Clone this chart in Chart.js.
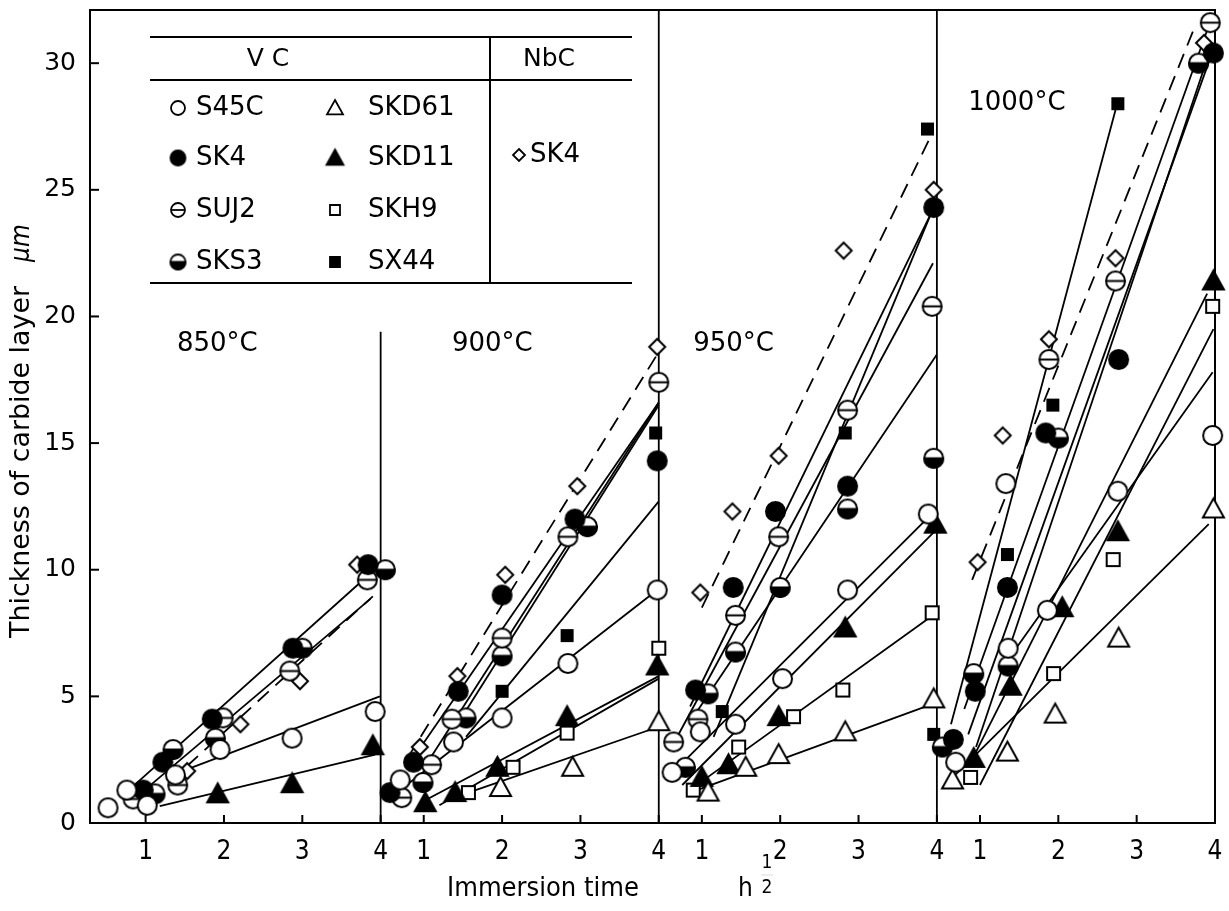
<!DOCTYPE html>
<html>
<head>
<title>Thickness of carbide layer vs immersion time</title>
<script src="https://cdn.jsdelivr.net/npm/chart.js"></script>
<style>
  html, body { margin: 0; padding: 0; background: #fff; }
  canvas { display: block; }
</style>
</head>
<body>
<canvas id="chart" width="1229" height="911"></canvas>
<script>

/* DATA - four panels (850, 900, 950, 1000 C), x = h^1/2, y = thickness in um */
const panelNames = ["850°C", "900°C", "950°C", "1000°C"];
const xTicks = [1, 2, 3, 4];
const yTicks = [0, 5, 10, 15, 20, 25, 30];

// measured points, one list per panel: [h^1/2, thickness]
const S45C = [
    [[0.52,0.6],[0.76,1.3],[1.02,0.7],[1.38,1.9],[1.95,2.9],[2.87,3.35],[3.93,4.4]],
    [[0.7,1.7],[1.38,3.2],[2.0,4.15],[2.84,6.3],[3.98,9.2]],
    [[0.62,2.0],[0.98,3.6],[1.43,3.9],[2.03,5.7],[2.86,9.2],[3.89,12.2]],
    [[0.69,2.4],[1.33,13.4],[1.36,6.9],[1.86,8.4],[2.76,13.1],[3.97,15.3]]
];
const SK4 = [
    [[0.97,1.3],[1.22,2.4],[1.85,4.1],[2.88,6.9],[3.84,10.2]],
    [[0.57,1.2],[0.87,2.4],[1.44,5.2],[2.0,9.0],[2.93,12.0],[3.98,14.3]],
    [[0.92,5.25],[1.4,9.3],[1.94,12.3],[2.86,13.3],[3.96,24.3]],
    [[0.66,3.3],[0.94,5.2],[1.35,9.3],[1.84,15.4],[2.77,18.3],[3.98,30.4]]
];
const SUJ2 = [
    [[0.84,0.95],[1.41,1.5],[1.99,4.15],[2.84,6.0],[3.83,9.6]],
    [[0.72,1.0],[1.1,2.3],[1.36,4.1],[2.0,7.3],[2.84,11.3],[4.0,17.4]],
    [[0.64,3.2],[0.95,4.1],[1.43,8.2],[1.98,11.3],[2.86,16.3],[3.94,20.4]],
    [[1.88,18.3],[2.73,21.4],[3.94,31.6]]
];
const SKS3 = [
    [[1.12,1.15],[1.35,2.9],[1.89,3.35],[3.0,6.9],[4.06,10.0]],
    [[0.99,1.6],[1.54,4.15],[2.0,6.6],[3.09,11.7]],
    [[0.79,2.2],[1.08,5.1],[1.43,6.75],[2.0,9.3],[2.86,12.4],[3.96,14.4]],
    [[0.52,3.0],[0.92,5.9],[1.36,6.2],[2.0,15.2],[3.79,30.0]]
];
const SKD61 = [
    [],
    [[1.98,1.4],[2.9,2.2],[4.0,4.0]],
    [[1.08,1.22],[1.56,2.2],[1.98,2.7],[2.83,3.6],[3.96,4.9]],
    [[0.65,1.7],[1.35,2.8],[1.96,4.3],[2.77,7.3],[3.98,12.4]]
];
const SKD11 = [
    [[1.92,1.15],[2.87,1.55],[3.9,3.05]],
    [[1.02,0.8],[1.4,1.2],[1.94,2.2],[2.83,4.2],[3.98,6.2]],
    [[1.0,1.8],[1.34,2.3],[1.98,4.2],[2.83,7.7],[3.98,11.8]],
    [[0.92,2.55],[1.39,5.4],[2.05,8.5],[2.76,11.5],[3.98,21.4]]
];
const SKH9 = [
    [],
    [[1.57,1.2],[2.14,2.2],[2.83,3.55],[4.0,6.9]],
    [[0.89,1.3],[1.47,3.0],[2.17,4.2],[2.8,5.25],[3.94,8.3]],
    [[0.88,1.8],[1.94,5.9],[2.7,10.4],[3.97,20.4]]
];
const SX44 = [
    [],
    [[2.0,5.2],[2.83,7.4],[3.96,15.4]],
    [[1.26,4.4],[2.83,15.4],[3.88,27.4]],
    [[0.41,3.5],[1.35,10.6],[1.93,16.5],[2.76,28.4]]
];
const NbC_SK4 = [
    [[1.53,2.05],[2.21,3.9],[2.97,5.6],[3.7,10.2]],
    [[0.95,3.0],[1.43,5.8],[2.04,9.8],[2.96,13.3],[3.98,18.8]],
    [[0.98,9.1],[1.39,12.3],[1.98,14.5],[2.81,22.6],[3.96,25.0]],
    [[0.97,10.3],[1.29,15.3],[1.88,19.1],[2.73,22.3],[3.86,30.8]]
];

// fitted lines, one [start, end] per panel
const fitS45C  = [[[1.57,2.17],[3.99,5.0]], [[0.7,1.3],[3.98,9.2]], [[0.6,1.9],[3.9,12.1]], [[1.3,6.2],[3.97,17.8]]];
const fitSK4   = [[[0.75,1.2],[3.85,9.8]], [[0.85,2.5],[4.0,16.6]], [[0.85,4.6],[3.93,24.1]], [[0.85,3.5],[3.95,30.3]]];
const fitSUJ2  = [[[0.93,1.15],[3.87,8.85]], [[1.05,2.4],[4.0,16.6]], [[0.65,3.2],[3.95,22.1]], [[0.8,4.5],[3.9,31.3]]];
const fitSKS3  = [null, [[1.45,4.0],[4.0,16.5]], [[0.85,4.0],[4.0,18.5]], [[0.95,3.0],[3.85,29.7]]];
const fitSKD61 = [null, [[1.57,1.2],[4.0,3.8]], [[0.85,1.2],[3.95,4.7]], [[0.52,1.4],[3.92,11.8]]];
const fitSKD11 = [[[1.18,0.67],[3.93,2.7]], [[1.02,0.9],[4.0,5.8]], [[0.75,1.5],[4.0,11.6]], [[0.85,2.2],[3.9,20.9]]];
const fitSKH9  = [null, [[1.2,0.7],[4.0,5.7]], [[0.8,1.2],[3.95,8.2]], [[1.0,1.5],[3.98,19.5]]];
const fitSX44  = [null, [[1.54,3.4],[4.0,12.7]], [[1.15,3.4],[3.93,24.1]], [[0.63,3.9],[2.76,28.5]]];
const fitNbC   = [[[1.3,1.6],[3.9,8.95]], [[0.8,2.6],[4.0,18.6]], [[1.0,8.5],[3.95,27.3]], [[0.9,9.6],[3.75,31.5]]];

/* LAYOUT / STYLE */
const PANEL_SHIFT = 3.55;                 // x offset between panels
const X_MIN = 0.29, X_MAX = 3 * PANEL_SHIFT + 4, Y_MAX = 32.1;
const labelAt = [[1.40,18.9],[1.36,18.9],[0.89,18.9],[0.85,28.4]];
const dividerTop = [19.4, Y_MAX, Y_MAX];
const TXT = "'DejaVu Sans', sans-serif";
const NARROW = "'Liberation Sans Narrow', 'DejaVu Sans Condensed', sans-serif";

function gx(p, s) { return p * PANEL_SHIFT + s; }

function makeMarker(kind, size, lw) {
    const d = Math.ceil(size + 8);
    const c = document.createElement("canvas");
    c.width = d; c.height = d;
    const g = c.getContext("2d");
    const m = d / 2, r = size / 2;
    g.lineWidth = lw;
    g.strokeStyle = "#000";
    g.beginPath();
    if (kind === "tri" || kind === "triFill") {
        g.moveTo(m, m - r); g.lineTo(m + r, m + r * 0.8); g.lineTo(m - r, m + r * 0.8); g.closePath();
    } else if (kind === "sq" || kind === "sqFill") {
        g.rect(m - r, m - r, size, size);
    } else if (kind === "diamond") {
        g.moveTo(m, m - r); g.lineTo(m + r, m); g.lineTo(m, m + r); g.lineTo(m - r, m); g.closePath();
    } else {
        g.arc(m, m, r, 0, Math.PI * 2);
    }
    const filled = kind === "dot" || kind === "triFill" || kind === "sqFill";
    g.fillStyle = filled ? "#000" : "#fff";
    g.fill();
    g.stroke();
    if (kind === "bar") {
        g.beginPath(); g.moveTo(m - r, m); g.lineTo(m + r, m); g.stroke();
    }
    if (kind === "half") {
        g.beginPath(); g.arc(m, m, r, 0, Math.PI); g.closePath();
        g.fillStyle = "#000"; g.fill(); g.stroke();
    }
    return c;
}

const markerSize = { circle: 19, dot: 19, bar: 19, half: 19, tri: 21, triFill: 21, sq: 13, sqFill: 11, diamond: 16 };
const legendSize = { circle: 14, dot: 15, bar: 14, half: 15, tri: 16, triFill: 17, sq: 10, sqFill: 10, diamond: 12 };

const series = [
    { name: "S45C",  pts: S45C,    fit: fitS45C,  marker: "circle" },
    { name: "SK4",   pts: SK4,     fit: fitSK4,   marker: "dot" },
    { name: "SUJ2",  pts: SUJ2,    fit: fitSUJ2,  marker: "bar" },
    { name: "SKS3",  pts: SKS3,    fit: fitSKS3,  marker: "half" },
    { name: "SKD61", pts: SKD61,   fit: fitSKD61, marker: "tri" },
    { name: "SKD11", pts: SKD11,   fit: fitSKD11, marker: "triFill" },
    { name: "SKH9",  pts: SKH9,    fit: fitSKH9,  marker: "sq" },
    { name: "SX44",  pts: SX44,    fit: fitSX44,  marker: "sqFill" },
    { name: "SK4 (NbC)", pts: NbC_SK4, fit: fitNbC, marker: "diamond", dashed: true }
];

const datasets = [];
series.forEach(sr => {
    const pts = [];
    sr.pts.forEach((list, p) => list.forEach(([s, y]) => pts.push({ x: gx(p, s), y: y })));
    datasets.push({
        label: sr.name,
        data: pts,
        pointStyle: makeMarker(sr.marker, markerSize[sr.marker], 2),
        pointRadius: 9,
        showLine: false,
        clip: false,
        order: 1
    });
    sr.fit.forEach((f, p) => {
        if (!f) return;
        datasets.push({
            label: sr.name + " fit",
            data: f.map(([s, y]) => ({ x: gx(p, s), y: y })),
            showLine: true,
            pointRadius: 0,
            borderColor: "#000",
            borderWidth: 1.8,
            borderDash: sr.dashed ? [15, 9] : [],
            clip: false,
            order: 2
        });
    });
});

/* FRAME, DIVIDERS, LABELS, LEGEND TABLE */
function seg(ctx, x1, y1, x2, y2) {
    ctx.beginPath(); ctx.moveTo(x1, y1); ctx.lineTo(x2, y2); ctx.stroke();
}

function fitText(ctx, text, x, y, width) {
    const w = ctx.measureText(text).width;
    ctx.save();
    ctx.translate(x, y);
    ctx.scale(width / w, 1);
    ctx.fillText(text, 0, 0);
    ctx.restore();
}

const paperPlugin = {
    id: "paper",
    beforeDatasetsDraw(chart) {
        const ctx = chart.ctx, a = chart.chartArea;
        const xs = chart.scales.x, ys = chart.scales.y;
        ctx.save();
        ctx.strokeStyle = "#000";
        ctx.lineWidth = 2;
        ctx.strokeRect(a.left, a.top, a.right - a.left, a.bottom - a.top);
        ctx.lineWidth = 1.8;
        dividerTop.forEach((top, p) => {
            const x = xs.getPixelForValue(gx(p, 4));
            seg(ctx, x, a.bottom, x, ys.getPixelForValue(top));
        });
        // inward ticks
        ctx.lineWidth = 2;
        for (let p = 0; p < 4; p++) {
            xTicks.forEach(t => {
                const x = xs.getPixelForValue(gx(p, t));
                seg(ctx, x, a.bottom, x, a.bottom - 8);
            });
        }
        yTicks.forEach(t => {
            const y = ys.getPixelForValue(t);
            seg(ctx, a.left, y, a.left + 9, y);
        });
        ctx.restore();
    },
    afterDatasetsDraw(chart) {
        const ctx = chart.ctx;
        const xs = chart.scales.x, ys = chart.scales.y;
        ctx.save();
        ctx.fillStyle = "#000";
        ctx.font = "26px " + TXT;
        ctx.textAlign = "left";
        ctx.textBaseline = "middle";
        panelNames.forEach((name, p) => {
            const [s, y] = labelAt[p];
            ctx.fillText(name, xs.getPixelForValue(gx(p, s)), ys.getPixelForValue(y));
        });

        // legend table
        const L = 150, R = 632, T = 37, H = 80, B = 283, D = 490;
        ctx.strokeStyle = "#000";
        ctx.lineWidth = 2;
        seg(ctx, L, T, R, T);
        seg(ctx, L, H, R, H);
        seg(ctx, L, B, R, B);
        seg(ctx, D, T, D, B);
        ctx.textAlign = "center";
        ctx.font = "25px " + TXT;
        ctx.fillText("V C", 268, 59);
        ctx.fillText("NbC", 549, 59);
        ctx.textAlign = "left";
        ctx.font = "26px " + TXT;
        const rows = [108, 158, 210, 262];
        const cols = [[178, 196], [335, 368]];
        series.slice(0, 8).forEach((sr, i) => {
            const col = cols[Math.floor(i / 4)], y = rows[i % 4];
            const mk = makeMarker(sr.marker, legendSize[sr.marker], 1.8);
            ctx.drawImage(mk, col[0] - mk.width / 2, y - mk.height / 2);
            ctx.fillText(sr.name, col[1], y);
        });
        const nb = makeMarker("diamond", legendSize.diamond, 1.8);
        ctx.drawImage(nb, 519 - nb.width / 2, 155 - nb.height / 2);
        ctx.fillText("SK4", 530, 155);
        ctx.restore();
    },
    afterDraw(chart) {
        const ctx = chart.ctx;
        ctx.save();
        ctx.fillStyle = "#000";
        ctx.textBaseline = "middle";
        ctx.textAlign = "left";
        // x title with h^(1/2)
        ctx.font = "26px " + NARROW;
        fitText(ctx, "Immersion time", 447, 889, 192);
        ctx.fillText("h", 738, 889);
        ctx.font = "19px " + NARROW;
        ctx.textAlign = "center";
        ctx.fillText("1", 767, 863);
        ctx.fillText("2", 767, 888);
        ctx.lineWidth = 1.5;
        seg(ctx, 761, 875, 773, 875);
        // y title
        ctx.translate(22, 0);
        ctx.rotate(-Math.PI / 2);
        ctx.textAlign = "left";
        ctx.font = "26px " + NARROW;
        fitText(ctx, "Thickness of carbide layer", -638, 0, 352);
        ctx.font = "italic 26px " + NARROW;
        ctx.fillText("μm", -262, 0);
        ctx.restore();
    }
};

new Chart(document.getElementById("chart"), {
    type: "scatter",
    data: { datasets: datasets },
    options: {
        responsive: false,
        animation: false,
        devicePixelRatio: 1,
        events: [],
        layout: { padding: { top: 9, right: 14, left: 0, bottom: 0 } },
        plugins: { legend: { display: false }, tooltip: { enabled: false } },
        scales: {
            x: {
                type: "linear",
                min: X_MIN,
                max: X_MAX,
                grid: { display: false, drawTicks: false },
                border: { display: false },
                afterBuildTicks(scale) {
                    const t = [];
                    for (let p = 0; p < 4; p++) xTicks.forEach(v => t.push({ value: gx(p, v) }));
                    scale.ticks = t;
                },
                afterFit(scale) {
                    scale.height = 88;
                    scale.paddingLeft = 0;
                    scale.paddingRight = 0;
                },
                ticks: {
                    autoSkip: false,
                    maxRotation: 0,
                    padding: 14,
                    color: "#000",
                    font: { family: NARROW, size: 26 },
                    callback: (v, i) => xTicks[i % 4]
                }
            },
            y: {
                type: "linear",
                min: 0,
                max: Y_MAX,
                grid: { display: false, drawTicks: false },
                border: { display: false },
                afterBuildTicks(scale) { scale.ticks = yTicks.map(v => ({ value: v })); },
                afterFit(scale) {
                    scale.width = 90;
                    scale.paddingTop = 0;
                    scale.paddingBottom = 0;
                },
                ticks: { padding: 14, color: "#000", font: { family: TXT, size: 25 } }
            }
        }
    },
    plugins: [paperPlugin]
});

</script>
</body>
</html>
